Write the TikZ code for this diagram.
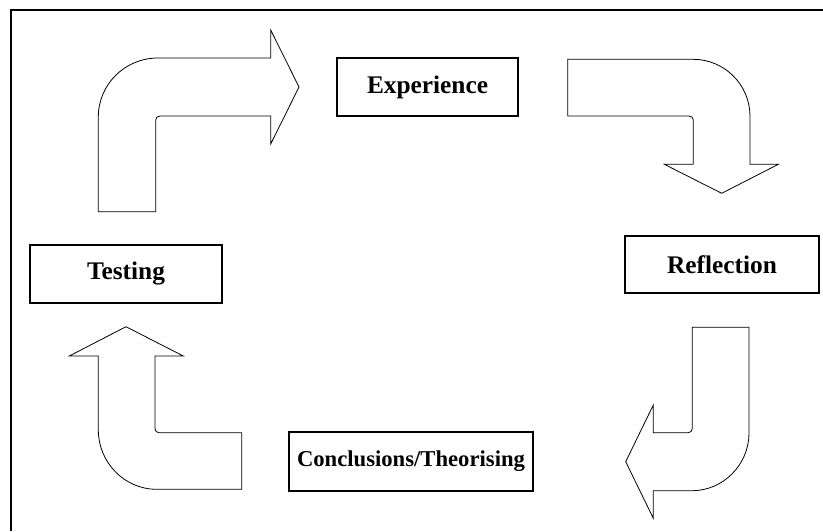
\documentclass[tikz,border=0pt]{standalone}
\usepackage{fontspec}
\setmainfont{Liberation Serif}
\begin{document}
\begin{tikzpicture}[x=0.75pt,y=-0.75pt,
  stagebox/.style={draw=black,line width=1pt,inner sep=0pt,align=center,
    font=\fontsize{19}{22}\selectfont\bfseries},
  bendarrow/.style={draw=black,line width=0.6pt,line join=miter,fill=white},
  frameline/.style={draw=black,line width=1.2pt}]
\useasboundingbox (0,0) rectangle (823,531);
\draw[frameline] (11,531) -- (11,10) -- (823,10);

% boxes
\node[stagebox,minimum width=135.75pt,minimum height=43.5pt] (exp) at (427.5,87) {Experience};
\node[stagebox,minimum width=145.5pt,minimum height=42.75pt] (ref) at (722,264.5) {Reflection};
\node[stagebox,minimum width=183pt,minimum height=44.25pt,
  font=\fontsize{17}{20}\selectfont\bfseries] (con) at (411,461.5) {Conclusions/Theorising};
\node[stagebox,minimum width=144pt,minimum height=43.5pt] (tes) at (126,274) {Testing};

% arrow: up then right (top-left)
\draw[bendarrow] (98.3,211.7) -- (98.3,117) .. controls (98.3,84.4) and (124.9,58) .. (158,58)
  -- (270.7,58) -- (270.7,30) -- (299,87) -- (270.7,144) -- (270.7,116)
  -- (160,116) .. controls (157.4,116) and (155.7,117.6) .. (155.7,120.2) -- (155.7,211.7) -- cycle;

% arrow: right then down (top-right)
\draw[bendarrow] (567.7,59.3) -- (693,59.3) .. controls (724.5,59.3) and (750,84.8) .. (750,116.3)
  -- (750,164.3) -- (778.3,164.3) -- (721.7,193.3) -- (664.3,164.3) -- (693.3,164.3)
  -- (693.3,120) .. controls (693.3,117.6) and (691.6,116) .. (689,116) -- (567.7,116) -- cycle;

% arrow: down then left (bottom-right)
\draw[bendarrow] (692.3,327.3) -- (749,327.3) -- (749,433) .. controls (749,464.3) and (723.6,490.7) .. (692,490.7)
  -- (653.3,490.7) -- (653.3,518.3) -- (625.7,461.7) -- (653.3,405) -- (653.3,432.7)
  -- (688,432.7) .. controls (690.5,432.7) and (692.3,431) .. (692.3,428.5) -- cycle;

% arrow: left then up (bottom-left)
\draw[bendarrow] (241.7,432.7) -- (159,432.7) .. controls (156.7,432.7) and (155,431) .. (155,428.5)
  -- (155,356) -- (183.3,356) -- (126,326.7) -- (69.3,356) -- (98.3,356)
  -- (98.3,430) .. controls (98.3,462) and (124,489.3) .. (156.7,489.3) -- (241.7,489.3) -- cycle;
\end{tikzpicture}
\end{document}
